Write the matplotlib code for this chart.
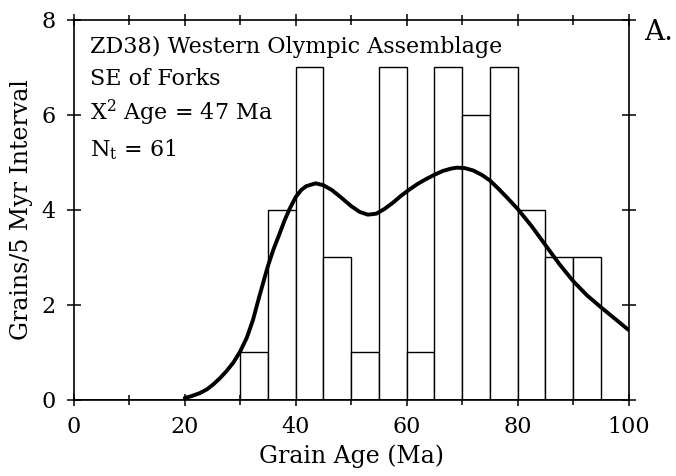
import numpy as np
import matplotlib
matplotlib.use("Agg")
import matplotlib.pyplot as plt

plt.rcParams['font.family'] = 'DejaVu Serif'
plt.rcParams['mathtext.fontset'] = 'dejavuserif'

# histogram, 5 Myr bins
bin_left = [30, 35, 40, 45, 50, 55, 60, 65, 70, 75, 80, 85, 90]
counts = [1, 4, 7, 3, 1, 7, 1, 7, 6, 7, 4, 3, 3]

# probability density curve
curve_age = [20, 21, 22.7, 24, 25.1, 26.3, 27.5, 28.8, 30, 31.2, 32.3, 33.5, 35,
             36, 37.1, 38, 38.9, 40, 41, 41.9, 43.6, 45, 46.5, 48, 50, 51.5,
             53, 54.5, 56, 57.5, 59, 60.5, 62, 63.5, 65, 66.5, 68, 69, 70.5,
             72, 73.5, 75, 76.5, 78, 80, 82.5, 85, 87.5, 90, 92.5, 95, 97.5, 100]
curve_val = [0.04, 0.07, 0.14, 0.22, 0.32, 0.45, 0.6, 0.79, 1.02, 1.31, 1.68, 2.2, 2.82,
             3.17, 3.5, 3.78, 4.02, 4.27, 4.42, 4.5, 4.56, 4.52, 4.42, 4.28, 4.08, 3.96,
             3.9, 3.92, 4.02, 4.15, 4.3, 4.43, 4.55, 4.65, 4.74, 4.82, 4.87, 4.89, 4.88,
             4.83, 4.74, 4.62, 4.45, 4.27, 4.02, 3.66, 3.26, 2.86, 2.5, 2.2, 1.95, 1.71, 1.47]

fig = plt.figure(figsize=(6.76, 4.76), dpi=100)
ax = fig.add_axes([0.109, 0.160, 0.821, 0.798])

ax.bar(bin_left, counts, width=5, align='edge', facecolor='white',
       edgecolor='black', linewidth=1.0, zorder=2)
ax.plot(curve_age, curve_val, color='black', linewidth=2.8, zorder=3,
        solid_capstyle='round', solid_joinstyle='round')
ax.plot([0, 100], [0, 0], color='black', linewidth=2.0, zorder=4)

ax.set_xlim(0, 100)
ax.set_ylim(0, 8)
ax.set_xticks(np.arange(0, 101, 20))
ax.set_xticks(np.arange(0, 101, 10), minor=True)
ax.set_yticks(np.arange(0, 9, 2))
ax.tick_params(axis='x', which='both', direction='inout', length=9, width=1.1,
               top=True, labelsize=16, pad=7)
ax.tick_params(axis='x', which='minor', length=7)
ax.tick_params(axis='y', direction='inout', length=10, width=1.1,
               right=True, labelsize=16, pad=8)
for s in ax.spines.values():
    s.set_linewidth(1.2)

ax.set_xlabel('Grain Age (Ma)', fontsize=17, labelpad=5)
ax.set_ylabel('Grains/5 Myr Interval', fontsize=17, labelpad=6)

lines = ['ZD38) Western Olympic Assemblage', 'SE of Forks',
         'X$^2$ Age = 47 Ma', 'N$_{\\rm t}$ = 61']
ys = [7.31, 6.63, 5.89, 5.12]
for t, y in zip(lines, ys):
    ax.text(3.0, y, t, fontsize=16, va='baseline', ha='left')

fig.text(0.975, 0.931, 'A.', fontsize=20, ha='center', va='center')

fig.savefig('out.png', dpi=100)
